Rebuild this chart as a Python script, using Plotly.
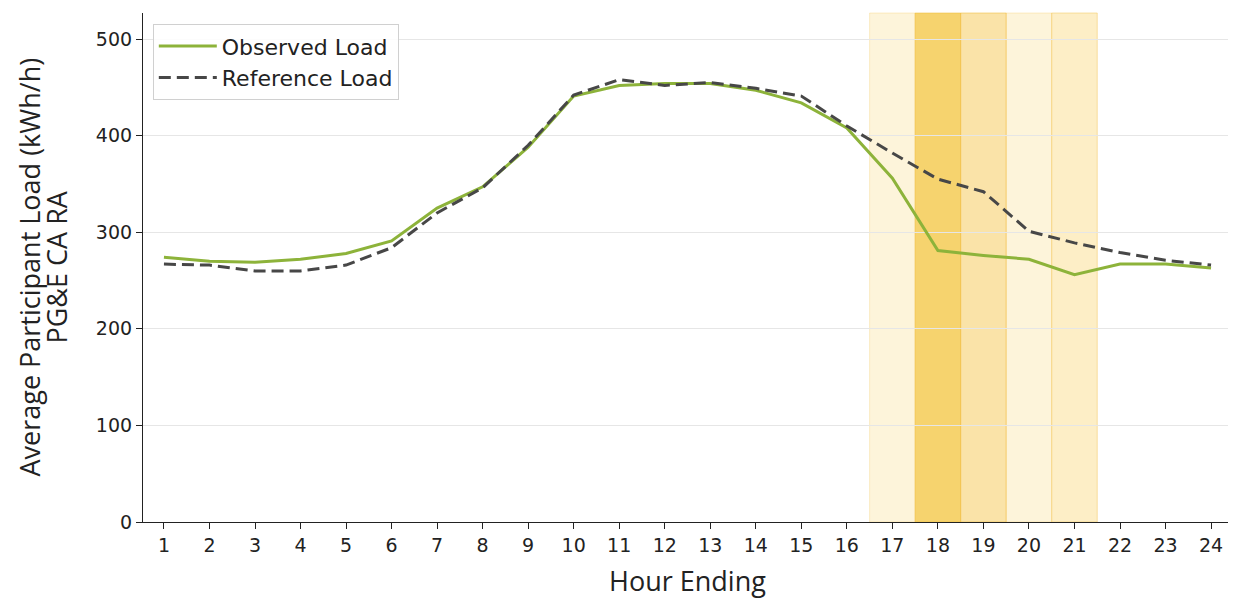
import plotly.graph_objects as go

hours = list(range(1, 25))
observed = [274, 270, 269, 272, 278, 291, 325, 347, 388, 441, 452, 454,
            454, 447, 434, 408, 356, 281, 276, 272, 256, 267, 267, 263]
reference = [267, 266, 260, 260, 266, 284, 320, 346, 390, 442, 458, 452,
             455, 449, 441, 410, 382, 355, 342, 301, 289, 279, 271, 266]
y_ticks = [0, 100, 200, 300, 400, 500]

# event window hours (hour ending) and their shading
band_hours = [17, 18, 19, 20, 21]
band_fill = ["rgba(250,220,140,0.32)", "rgba(244,203,85,0.85)", "rgba(246,208,110,0.6)",
             "rgba(250,220,140,0.32)", "rgba(250,215,120,0.42)"]
band_edge = ["rgba(245,200,90,0.3)", "rgba(240,190,60,0.55)", "rgba(240,190,60,0.55)",
             "rgba(245,200,90,0.3)", "rgba(245,200,90,0.5)"]

fig = go.Figure()
fig.add_trace(go.Scatter(x=hours, y=observed, mode="lines", name="Observed Load",
                         line=dict(color="#8db33a", width=3)))
fig.add_trace(go.Scatter(x=hours, y=reference, mode="lines", name="Reference Load",
                         line=dict(color="#474747", width=3, dash="12px,6px")))

for h, fc, ec in zip(band_hours, band_fill, band_edge):
    fig.add_shape(type="rect", xref="x", yref="paper", x0=h - 0.5, x1=h + 0.5,
                  y0=0, y1=1, fillcolor=fc, line=dict(color=ec, width=1), layer="below")

# axis titles as annotations so the two y lines sit close together
title_font = dict(family="Open Sans", size=27, color="#222")
fig.add_annotation(text="Average Participant Load (kWh/h)", xref="paper", yref="paper",
                   x=0, y=0.5, xanchor="center", yanchor="middle", xshift=-114,
                   textangle=-90, showarrow=False, font=title_font)
fig.add_annotation(text="PG&E CA RA", xref="paper", yref="paper",
                   x=0, y=0.5, xanchor="center", yanchor="middle", xshift=-87,
                   textangle=-90, showarrow=False, font=title_font)
fig.add_annotation(text="Hour Ending", xref="paper", yref="paper",
                   x=0.5, y=0, xanchor="center", yanchor="middle", yshift=-58,
                   showarrow=False, font=title_font)

fig.update_layout(
    width=1228, height=591,
    margin=dict(l=135, r=4, t=5, b=77),
    plot_bgcolor="white", paper_bgcolor="white",
    font=dict(family="DejaVu Sans", size=19, color="#222"),
    legend=dict(x=0.009, y=0.978, xanchor="left", yanchor="top",
                bgcolor="rgba(255,255,255,0.85)", bordercolor="#d0d0d0", borderwidth=1,
                font=dict(size=22), tracegroupgap=0, itemwidth=58),
    showlegend=True,
)
fig.update_xaxes(
    range=[0.54, 24.46], tickmode="array", tickvals=hours,
    ticks="outside", ticklen=6, tickcolor="#222", showgrid=False,
    showline=True, linecolor="#222", linewidth=1.2, zeroline=False,
    tickfont=dict(size=19), automargin=False,
)
fig.update_yaxes(
    range=[0, 527], tickvals=y_ticks,
    ticks="outside", ticklen=6, tickcolor="#222",
    showgrid=True, gridcolor="#e6e6e6", gridwidth=1,
    showline=True, linecolor="#222", linewidth=1.2, zeroline=False,
    tickfont=dict(size=19), automargin=False,
)

fig.write_html("out.html")
